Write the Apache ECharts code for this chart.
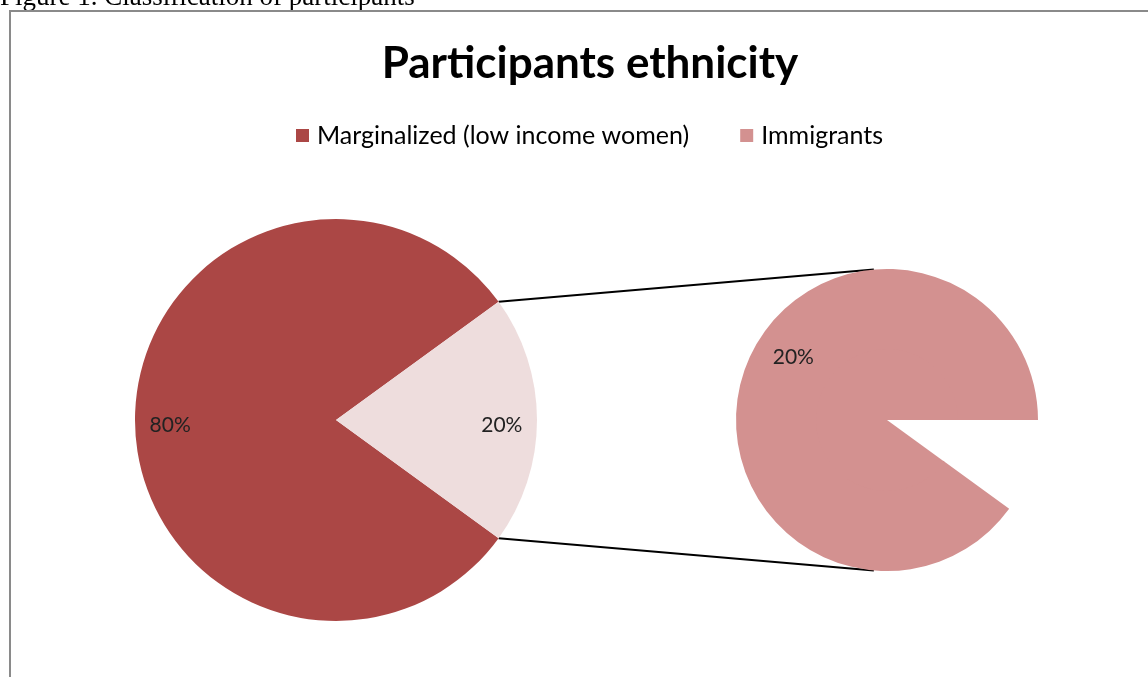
<!DOCTYPE html>
<html>
<head>
<meta charset="utf-8">
<title>Participants ethnicity</title>
<script src="https://cdn.jsdelivr.net/npm/echarts@6/dist/echarts.min.js"></script>
<style>
  html, body { margin: 0; padding: 0; background: #fff; }
  #chart { width: 1148px; height: 677px; }
</style>
</head>
<body>
<div id="chart"></div>
<script>
// data
const categories = ['Marginalized (low income women)', 'Immigrants'];
const values = [80, 20];
const secondaryNames = ['Immigrants'];
const secondaryValues = [20];
const secondaryLabels = ['20%'];
const secondaryHiddenShare = 0.1; // empty wedge of the second pie

const colors = ['#AB4745', '#EEDDDD'];
const secondaryColor = '#D39190';
const fontFamily = 'Lato, "Open Sans", sans-serif';

const chart = echarts.init(document.getElementById('chart'));

// layout of the two pies
const mainCenter = [336, 420];
const mainRadius = 201;
const subCenter = [887, 420];
const subRadius = 151;

const total = values.reduce((a, b) => a + b, 0);
const splitHalf = values[1] / total * 360 / 2; // half angle of the split slice
const mainStart = 360 - splitHalf;

const secTotal = secondaryValues.reduce((a, b) => a + b, 0);
const hiddenValue = secTotal * secondaryHiddenShare / (1 - secondaryHiddenShare);

// connector lines from the split slice edges to the second pie
function pt(c, r, deg) {
  const a = deg * Math.PI / 180;
  return [c[0] + r * Math.cos(a), c[1] - r * Math.sin(a)];
}
const p1 = pt(mainCenter, mainRadius, splitHalf);
const p2 = pt(subCenter, subRadius, 95);
const p3 = pt(mainCenter, mainRadius, -splitHalf);
const p4 = pt(subCenter, subRadius, -95);

const mainData = categories.map((name, i) => ({
  name: name,
  value: values[i],
  itemStyle: { color: colors[i] }
}));

const subData = [{
  name: '',
  value: hiddenValue,
  itemStyle: { color: 'transparent' },
  label: { show: false }
}].concat(secondaryNames.map((name, i) => ({
  name: name,
  value: secondaryValues[i],
  itemStyle: { color: secondaryColor },
  label: { formatter: secondaryLabels[i] }
})));

const labelStyle = {
  show: true,
  position: 'inside',
  color: '#222',
  fontSize: 21,
  fontFamily: fontFamily
};

const option = {
  backgroundColor: '#fff',
  animation: false,
  title: {
    text: 'Participants ethnicity',
    left: 585,
    textAlign: 'center',
    top: 37,
    textStyle: {
      fontFamily: fontFamily,
      fontWeight: 'bold',
      fontSize: 44,
      color: '#000'
    }
  },
  legend: {
    top: 118,
    left: 291,
    itemWidth: 13,
    itemHeight: 13,
    itemGap: 51,
    icon: 'rect',
    selectedMode: false,
    textStyle: {
      fontFamily: fontFamily,
      fontSize: 25,
      color: '#000',
      padding: [0, 0, 0, 3]
    },
    data: [
      { name: categories[0], itemStyle: { color: colors[0] } },
      { name: categories[1], itemStyle: { color: secondaryColor } }
    ]
  },
  graphic: [
    {
      type: 'text',
      x: 0,
      y: 11,
      style: {
        text: 'Figure 1. Classification of participants',
        font: '27px "Liberation Serif", serif',
        fill: '#000',
        verticalAlign: 'bottom'
      }
    },
    {
      type: 'polyline',
      shape: { points: [[1160, 11], [10, 11], [10, 690]] },
      style: { stroke: '#8a8a8a', lineWidth: 2, fill: null }
    },
    {
      type: 'line',
      shape: { x1: p1[0], y1: p1[1], x2: p2[0], y2: p2[1] },
      style: { stroke: '#000', lineWidth: 2 }
    },
    {
      type: 'line',
      shape: { x1: p3[0], y1: p3[1], x2: p4[0], y2: p4[1] },
      style: { stroke: '#000', lineWidth: 2 }
    }
  ],
  series: [
    {
      name: 'main',
      type: 'pie',
      center: mainCenter,
      radius: mainRadius,
      startAngle: mainStart,
      clockwise: true,
      silent: true,
      label: { show: false },
      labelLine: { show: false },
      data: mainData
    },
    {
      // ring used only to place the labels near the rim
      name: 'mainLabels',
      type: 'pie',
      center: mainCenter,
      radius: [mainRadius * 0.62, mainRadius],
      startAngle: mainStart,
      clockwise: true,
      silent: true,
      itemStyle: { color: 'transparent' },
      label: Object.assign({}, labelStyle, { formatter: '{d}%' }),
      labelLayout: { dy: 5 },
      labelLine: { show: false },
      data: categories.map((name, i) => ({ name: name, value: values[i] }))
    },
    {
      name: 'sub',
      type: 'pie',
      center: subCenter,
      radius: [subRadius * 0.46, subRadius],
      startAngle: 0,
      clockwise: true,
      silent: true,
      label: labelStyle,
      labelLayout: { dx: 14, dy: -28 },
      labelLine: { show: false },
      data: subData
    },
    {
      name: 'subFill',
      type: 'pie',
      center: subCenter,
      radius: [0, subRadius * 0.47],
      startAngle: 0,
      clockwise: true,
      silent: true,
      label: { show: false },
      labelLine: { show: false },
      data: subData.map(d => Object.assign({}, d, { label: { show: false } }))
    }
  ]
};

chart.setOption(option);
</script>
</body>
</html>
